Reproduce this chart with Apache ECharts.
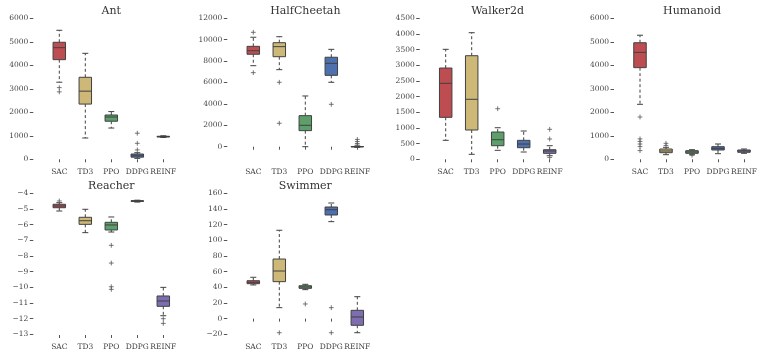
<!DOCTYPE html>
<html>
<head>
<meta charset="utf-8">
<script src="https://cdn.jsdelivr.net/npm/echarts@6/dist/echarts.min.js"></script>
<style>
  html, body { margin: 0; padding: 0; background: #fff; }
  #chart { width: 762px; height: 354px; }
</style>
</head>
<body>
<div id="chart"></div>
<script>
const categories = ['SAC', 'TD3', 'PPO', 'DDPG', 'REINF']

// each box: [lower whisker, q1, median, q3, upper whisker], fliers: [category index, value]
const antBoxes = [
  [3280, 4240, 4750, 4980, 5490],
  [906, 2350, 2900, 3490, 4510],
  [1330, 1620, 1800, 1885, 2030],
  [40, 90, 150, 225, 280],
  [930, 950, 965, 980, 1000]
]
const antFliers = [[0, 3050], [0, 2870], [3, 1110], [3, 680], [3, 400]]
const antTicks = [0, 1000, 2000, 3000, 4000, 5000, 6000]

const cheetahBoxes = [
  [7570, 8640, 8970, 9380, 10230],
  [7200, 8410, 9350, 9720, 10280],
  [0, 1500, 2000, 2900, 4740],
  [6020, 6670, 7790, 8360, 9100],
  [-60, -20, 0, 20, 60]
]
const cheetahFliers = [[0, 10690], [0, 6920], [1, 6020], [1, 2190], [3, 3960],
  [4, 680], [4, 480], [4, 300], [4, 150]]
const cheetahTicks = [0, 2000, 4000, 6000, 8000, 10000, 12000]

const walkerBoxes = [
  [606, 1340, 2425, 2913, 3510],
  [160, 935, 1915, 3306, 4040],
  [287, 434, 625, 871, 1008],
  [233, 370, 488, 606, 903],
  [115, 191, 265, 306, 434]
]
const walkerFliers = [[2, 1615], [4, 957], [4, 648], [4, 60]]
const walkerTicks = [0, 500, 1000, 1500, 2000, 2500, 3000, 3500, 4000, 4500]

const humanoidBoxes = [
  [2340, 3900, 4550, 4960, 5280],
  [196, 281, 353, 438, 510],
  [196, 255, 311, 366, 408],
  [238, 396, 468, 536, 651],
  [255, 298, 353, 396, 438]
]
const humanoidFliers = [[0, 1800], [0, 870], [0, 760], [0, 650], [0, 540], [0, 370],
  [1, 680], [1, 590], [2, 170]]
const humanoidTicks = [0, 1000, 2000, 3000, 4000, 5000, 6000]

const reacherBoxes = [
  [-5.13, -4.92, -4.81, -4.70, -4.60],
  [-6.51, -5.98, -5.75, -5.53, -5.02],
  [-6.47, -6.34, -6.02, -5.85, -5.51],
  [-4.56, -4.52, -4.50, -4.47, -4.44],
  [-11.81, -11.21, -10.87, -10.55, -10.0]
]
const reacherFliers = [[0, -4.49], [2, -7.32], [2, -8.45], [2, -9.96], [2, -10.13],
  [4, -12.0], [4, -12.3]]
const reacherTicks = [-13, -12, -11, -10, -9, -8, -7, -6, -5, -4]

const swimmerBoxes = [
  [43, 44.6, 46.4, 48.4, 52.8],
  [14, 47.2, 60.8, 76.1, 112.8],
  [37, 38.7, 40.4, 42, 43.8],
  [123.8, 132.3, 139, 142.5, 147.6],
  [-18, -8.5, 2.1, 10.6, 28]
]
const swimmerFliers = [[1, -18], [2, 18.7], [3, 14], [3, -18]]
const swimmerTicks = [-20, 0, 20, 40, 60, 80, 100, 120, 140, 160]

const panels = [
  { name: 'Ant', boxes: antBoxes, fliers: antFliers, ticks: antTicks, min: -30, max: 6000 },
  { name: 'HalfCheetah', boxes: cheetahBoxes, fliers: cheetahFliers, ticks: cheetahTicks, min: -1243, max: 12000 },
  { name: 'Walker2d', boxes: walkerBoxes, fliers: walkerFliers, ticks: walkerTicks, min: -22, max: 4500 },
  { name: 'Humanoid', boxes: humanoidBoxes, fliers: humanoidFliers, ticks: humanoidTicks, min: -30, max: 6000 },
  { name: 'Reacher', boxes: reacherBoxes, fliers: reacherFliers, ticks: reacherTicks, min: -13.04, max: -4 },
  { name: 'Swimmer', boxes: swimmerBoxes, fliers: swimmerFliers, ticks: swimmerTicks, min: -20.9, max: 160 }
]

// grid placement, px
const colLeft = [46.3, 240.3, 432.7, 627]
const rowTop = [18.3, 193.3]
const gridW = 130
const gridH = 141.7

const boxColors = ['#BE4D52', '#CDB878', '#5C9F6A', '#4D70AE', '#7E6EAF']
const edge = '#404040'
const font = 'DejaVu Serif'

const fmt = v => (v < 0 ? '\u2212' + Math.abs(v) : String(v))

function renderBox(params, api) {
  let i = api.value(0)
  let lo = api.coord([i, api.value(1)])
  let q1 = api.coord([i, api.value(2)])
  let md = api.coord([i, api.value(3)])
  let q3 = api.coord([i, api.value(4)])
  let hi = api.coord([i, api.value(5)])
  let band = api.size([1, 0])[0]
  let half = band * 0.24
  let cap = band * 0.115
  let x = lo[0]
  let solid = { stroke: edge, lineWidth: 1 }
  let dashed = { stroke: edge, lineWidth: 1, lineDash: [3, 2.5] }
  return {
    type: 'group',
    children: [
      { type: 'line', shape: { x1: x, y1: q3[1], x2: x, y2: hi[1] }, style: dashed },
      { type: 'line', shape: { x1: x, y1: q1[1], x2: x, y2: lo[1] }, style: dashed },
      { type: 'line', shape: { x1: x - cap, y1: hi[1], x2: x + cap, y2: hi[1] }, style: solid },
      { type: 'line', shape: { x1: x - cap, y1: lo[1], x2: x + cap, y2: lo[1] }, style: solid },
      {
        type: 'rect',
        shape: { x: x - half, y: q3[1], width: half * 2, height: q1[1] - q3[1] },
        style: { fill: boxColors[i], stroke: edge, lineWidth: 1 }
      },
      { type: 'line', shape: { x1: x - half, y1: md[1], x2: x + half, y2: md[1] }, style: solid }
    ]
  }
}

function renderFlier(params, api) {
  let p = api.coord([api.value(0), api.value(1)])
  let r = 2.4
  let st = { stroke: '#555', lineWidth: 0.8 }
  return {
    type: 'group',
    children: [
      { type: 'line', shape: { x1: p[0] - r, y1: p[1], x2: p[0] + r, y2: p[1] }, style: st },
      { type: 'line', shape: { x1: p[0], y1: p[1] - r, x2: p[0], y2: p[1] + r }, style: st }
    ]
  }
}

let titles = []
let grids = []
let xAxes = []
let yAxes = []
let series = []

panels.forEach((p, k) => {
  let left = colLeft[k % 4]
  let top = rowTop[Math.floor(k / 4)]
  grids.push({ left, top, width: gridW, height: gridH })
  titles.push({
    text: p.name,
    left: left + gridW / 2,
    top: top - 12.5,
    textAlign: 'center',
    padding: 0,
    textStyle: { fontFamily: font, fontSize: 11, fontWeight: 'normal', color: '#333' }
  })
  xAxes.push({
    type: 'category',
    gridIndex: k,
    data: categories,
    axisLine: { show: false },
    axisTick: { show: true, alignWithLabel: true, length: 3, lineStyle: { color: '#555' } },
    axisLabel: { fontFamily: font, fontSize: 7.5, color: '#444', margin: 8, interval: 0 },
    splitLine: { show: false }
  })
  yAxes.push({
    type: 'value',
    gridIndex: k,
    min: p.min,
    max: p.max,
    offset: 13,
    axisLine: { show: false },
    axisTick: { show: true, length: 3.5, customValues: p.ticks, lineStyle: { color: '#555' } },
    axisLabel: {
      fontFamily: font, fontSize: 7.5, color: '#444', margin: 5,
      customValues: p.ticks, formatter: fmt
    },
    splitLine: { show: false }
  })
  series.push({
    type: 'custom',
    xAxisIndex: k,
    yAxisIndex: k,
    renderItem: renderBox,
    encode: { x: 0, y: [1, 2, 3, 4, 5] },
    data: p.boxes.map((b, i) => [i].concat(b)),
    silent: true
  })
  series.push({
    type: 'custom',
    xAxisIndex: k,
    yAxisIndex: k,
    renderItem: renderFlier,
    encode: { x: 0, y: 1 },
    data: p.fliers,
    silent: true
  })
})

let chart = echarts.init(document.getElementById('chart'))
chart.setOption({
  animation: false,
  backgroundColor: '#fff',
  title: titles,
  grid: grids,
  xAxis: xAxes,
  yAxis: yAxes,
  series
})
</script>
</body>
</html>
